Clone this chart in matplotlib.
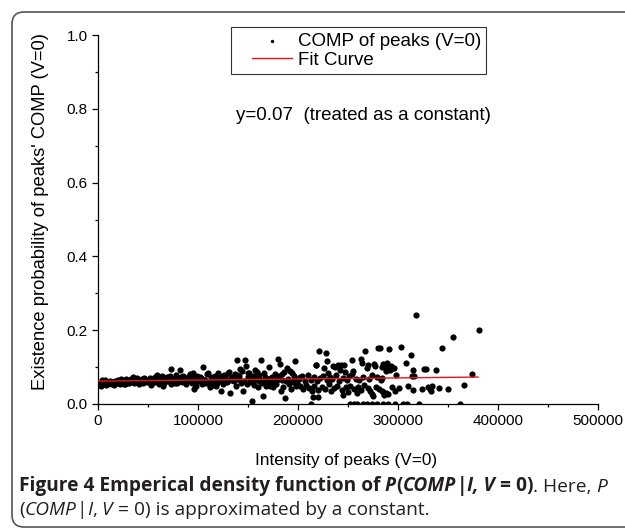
import matplotlib
matplotlib.use("Agg")
import matplotlib.pyplot as plt
from matplotlib.patches import FancyBboxPatch
from matplotlib.transforms import IdentityTransform
from matplotlib.lines import Line2D
from matplotlib.collections import PathCollection
from matplotlib.legend_handler import HandlerLine2D, HandlerPathCollection

plt.rcParams['font.family'] = ['Liberation Sans', 'DejaVu Sans']

# intensity 0 - 50000 (dense band)
intensity_a = [1000, 2000, 3000, 3500, 5000, 6000, 7000, 8000, 9000, 10000,
               11000, 12000, 13000, 14000, 15000, 16000, 17000, 18000, 19000,
               20000, 21000, 22000, 23000, 24000, 25000, 26000, 27000, 28000,
               29000, 30000, 31000, 32000, 33000, 34000, 35000, 36000, 37000,
               38000, 39000, 40000, 41000, 42000, 43000, 44000, 45000, 46000,
               47000, 48000, 49000]
prob_a = [0.052, 0.058, 0.050, 0.065, 0.062, 0.055, 0.064, 0.052, 0.060, 0.054,
          0.057, 0.063, 0.058, 0.054, 0.059, 0.052, 0.061, 0.056, 0.062,
          0.064, 0.058, 0.053, 0.069, 0.066, 0.060, 0.054, 0.055, 0.067,
          0.058, 0.061, 0.057, 0.065, 0.068, 0.063, 0.072, 0.056, 0.065,
          0.060, 0.070, 0.059, 0.055, 0.062, 0.066, 0.068, 0.057, 0.071,
          0.067, 0.064, 0.060]

# intensity 50000 - 100000
intensity_b = [51000, 52000, 53000, 54000, 55000, 57000, 58000, 59000, 60000,
               61000, 63000, 64000, 65000, 66000, 67000, 69000, 70000, 71000,
               72000, 73000, 73000, 75000, 76000, 77000, 78000, 79000, 81000,
               82000, 82000, 83000, 84000, 85000, 87000, 88000, 89000, 90000,
               91000, 92000, 93000, 94000, 95000, 96000, 96000, 97000, 98000,
               99000]
prob_b = [0.062, 0.070, 0.052, 0.057, 0.066, 0.073, 0.060, 0.078, 0.064,
          0.055, 0.069, 0.075, 0.050, 0.058, 0.066, 0.072, 0.061, 0.067,
          0.077, 0.054, 0.096, 0.068, 0.063, 0.056, 0.079, 0.057, 0.071,
          0.065, 0.092, 0.074, 0.060, 0.076, 0.069, 0.053, 0.061, 0.073,
          0.066, 0.081, 0.080, 0.058, 0.083, 0.070, 0.040, 0.062, 0.048,
          0.075]

# intensity 100000 - 200000
intensity_c = [101000, 102000, 103000, 104000, 105000, 106000, 107000, 108000,
               109000, 110000, 111000, 112000, 113000, 114000, 115000, 116000,
               117000, 118000, 119000, 120000, 121000, 122000, 123000, 124000,
               125000, 126000, 127000, 128000, 129000, 130000, 131000, 132000,
               133000, 134000, 135000, 136000, 137000, 138000, 139000, 140000,
               141000, 142000, 143000, 144000, 145000, 146000, 147000, 148000,
               149000, 150000, 151000, 152000, 153000, 154000, 155000, 156000,
               157000, 158000, 159000, 160000, 161000, 162000, 163000, 164000,
               165000, 166000, 167000, 168000, 169000, 170000, 171000, 172000,
               173000, 174000, 175000, 176000, 177000, 178000, 179000, 180000,
               181000, 182000, 183000, 184000, 185000, 186000, 187000, 188000,
               189000, 191000, 192000, 193000, 194000, 195000, 196000, 197000,
               198000, 199000]
prob_c = [0.062, 0.074, 0.071, 0.055, 0.099, 0.065, 0.066, 0.058, 0.080,
          0.083, 0.060, 0.045, 0.072, 0.051, 0.061, 0.068, 0.076, 0.048,
          0.057, 0.085, 0.077, 0.063, 0.034, 0.067, 0.053, 0.079, 0.059,
          0.066, 0.060, 0.083, 0.088, 0.031, 0.071, 0.073, 0.064, 0.062,
          0.081, 0.050, 0.119, 0.069, 0.075, 0.095, 0.058, 0.090, 0.035,
          0.062, 0.119, 0.103, 0.054, 0.084, 0.085, 0.067, 0.059, 0.008,
          0.077, 0.052, 0.093, 0.070, 0.086, 0.045, 0.061, 0.065, 0.119,
          0.056, 0.022, 0.083, 0.072, 0.048, 0.058, 0.068, 0.100, 0.050,
          0.060, 0.074, 0.047, 0.053, 0.082, 0.055, 0.066, 0.121, 0.076,
          0.108, 0.035, 0.064, 0.046, 0.088, 0.017, 0.063, 0.097, 0.055,
          0.090, 0.040, 0.084, 0.060, 0.066, 0.117, 0.050, 0.058]

# intensity 100000 - 200000, second layer of the band
intensity_c2 = [104000, 110000, 116000, 121000, 127000, 133000, 139000,
                144000, 150000, 156000, 161000, 167000, 173000, 178000,
                184000, 190000, 196000]
prob_c2 = [0.068, 0.057, 0.073, 0.062, 0.075, 0.066, 0.078, 0.061, 0.072,
           0.065, 0.079, 0.060, 0.070, 0.064, 0.081, 0.069, 0.075]

# intensity 200000 - 300000 (spread out)
intensity_d = [201000, 202000, 202000, 204000, 205000, 207000, 208000, 210000,
               211000, 213000, 214000, 214700, 216000, 216000, 217700, 218000,
               219000, 220000, 220300, 221300, 222000, 224000, 225000, 226300,
               227000, 227700, 228700, 229000, 230300, 231000, 232000, 233000,
               234000, 235000, 236000, 237000, 238000, 239000, 240000, 241000,
               242000, 243000, 244000, 245000, 245000, 246000, 247000, 248000,
               249000, 250000, 251000, 252000, 253700, 254000, 255300, 256000,
               258000, 258700, 260000, 261000, 262700, 263000, 264000, 265000,
               266000, 267000, 268700, 269700, 270300, 271000, 272000, 274000,
               274000, 275000, 276300, 277000, 278000, 279000, 280300, 281000,
               282000, 283000, 284000, 284000, 284300, 284700, 285000, 286000,
               286000, 287000, 288000, 288000, 289000, 290000, 290000, 291300,
               292000, 293000, 294000, 295000, 296000, 297000, 298000]
prob_d = [0.068, 0.048, 0.072, 0.075, 0.040, 0.062, 0.052, 0.079,
          0.044, 0.066, 0.035, 0.020, 0.072, 0.050, 0.107, 0.105,
          0.061, 0.038, 0.020, 0.144, 0.070, 0.046, 0.076, 0.097,
          0.041, 0.137, 0.117, 0.064, 0.083, 0.053, 0.073, 0.036,
          0.068, 0.103, 0.044, 0.101, 0.078, 0.049, 0.107, 0.063,
          0.092, 0.106, 0.039, 0.071, 0.024, 0.107, 0.087, 0.046,
          0.066, 0.033, 0.075, 0.050, 0.119, 0.080, 0.090, 0.042,
          0.069, 0.031, 0.047, 0.064, 0.121, 0.038, 0.112, 0.074,
          0.051, 0.144, 0.097, 0.105, 0.044, 0.068, 0.036, 0.078,
          0.026, 0.022, 0.108, 0.103, 0.045, 0.072, 0.153, 0.040,
          0.153, 0.066, 0.100, 0.035, 0.070, 0.108, 0.033, 0.100,
          0.024, 0.106, 0.089, 0.029, 0.111, 0.095, 0.027, 0.150,
          0.093, 0.104, 0.046, 0.098, 0.097, 0.036, 0.078]

# intensity above 300000 (sparse)
intensity_e = [300700, 302700, 307700, 310300, 312700, 314000, 314700, 315300,
               316000, 317700, 323700, 326000, 327500, 330000, 332000, 333000,
               334000, 337700, 341300, 343700, 350300, 355300, 366300, 373700,
               381000]
prob_e = [0.044, 0.155, 0.112, 0.049, 0.133, 0.075, 0.038, 0.092,
          0.077, 0.241, 0.040, 0.096, 0.096, 0.047, 0.040, 0.035,
          0.049, 0.092, 0.043, 0.151, 0.042, 0.182, 0.051, 0.080,
          0.201]

# points sitting on the zero line
intensity_zero = [213000, 252000, 256000, 259000, 265000, 269000, 274000,
                  279000, 285000, 290000, 297000, 305000, 309000, 321000,
                  362000]
prob_zero = [0.0] * len(intensity_zero)

# linear fit
fit_x = [0, 380000]
fit_y = [0.062, 0.073]

intensity = (intensity_a + intensity_b + intensity_c + intensity_c2
             + intensity_d + intensity_e + intensity_zero)
prob = prob_a + prob_b + prob_c + prob_c2 + prob_d + prob_e + prob_zero

fig = plt.figure(figsize=(6.25, 5.29), dpi=100)
ax = fig.add_axes([0.1568, 0.2363, 0.8, 0.6975])

ax.scatter(intensity, prob, s=20, c='black', linewidths=0, zorder=3,
           label='COMP of peaks (V=0)')
ax.plot(fit_x, fit_y, color='#e8141c', lw=1.0, zorder=4, label='Fit Curve')

ax.set_xlim(0, 500000)
ax.set_ylim(0, 1.0)
ax.set_xticks(range(0, 500001, 100000))
ax.set_xticklabels([str(v) for v in range(0, 500001, 100000)])
ax.set_xticks(range(50000, 500000, 100000), minor=True)
ax.set_yticks([0.0, 0.2, 0.4, 0.6, 0.8, 1.0])
ax.set_yticklabels(['0.0', '0.2', '0.4', '0.6', '0.8', '1.0'])
ax.set_yticks([0.1, 0.3, 0.5, 0.7, 0.9], minor=True)
ax.tick_params(which='major', direction='out', length=4.5, width=0.9,
               labelsize=11, pad=3)
ax.tick_params(which='minor', direction='out', length=2.5, width=0.9)
for side in ['top', 'right']:
    ax.spines[side].set_visible(False)
for side in ['left', 'bottom']:
    ax.spines[side].set_linewidth(0.9)

fig.text(346 / 625, 1 - 460 / 529, 'Intensity of peaks (V=0)',
         ha='center', va='center', fontsize=12.4)
fig.text(41 / 625, 1 - 212 / 529,
         "Existence probability of peaks' COMP (V=0)",
         ha='center', va='center', rotation=90, fontsize=13.2)
fig.text(236 / 625, 1 - 115 / 529, 'y=0.07  (treated as a constant)',
         ha='left', va='center', fontsize=13.5)

leg_size = 13.5
leg = ax.legend(loc='upper left', bbox_to_anchor=(231 / 625, 1 - 27 / 529),
                bbox_transform=fig.transFigure, fontsize=leg_size,
                frameon=True, fancybox=False, borderpad=0.3,
                labelspacing=0.1, handlelength=2.95, handletextpad=0.3,
                markerscale=0.55, scatterpoints=1, borderaxespad=0,
                handler_map={Line2D: HandlerLine2D(xpad=0.82),
                             PathCollection: HandlerPathCollection(xpad=0.82)})
leg.get_frame().set_edgecolor('black')
leg.get_frame().set_linewidth(0.8)

# rounded frame around the figure
border = FancyBboxPatch((12, 2), 700, 515,
                        boxstyle='round,pad=0,rounding_size=12',
                        transform=IdentityTransform(), fill=False,
                        edgecolor='#555555', lw=1.2)
fig.add_artist(border)

# caption, built from pieces in bold / italic
cap_font = ['Open Sans', 'DejaVu Sans']
cap_size = 13.8
cap_color = '#231f20'
lines = [
    [('Figure 4 Emperical density function of', 'bold', 'normal'),
     (' P', 'bold', 'italic'), ('(', 'bold', 'normal'),
     ('COMP', 'bold', 'italic'), ('|', 'bold', 'normal'),
     ('I, V', 'bold', 'italic'), (' = 0)', 'bold', 'normal'),
     ('. Here,', 'normal', 'normal'), (' P', 'normal', 'italic')],
    [('(', 'normal', 'normal'), ('COMP', 'normal', 'italic'),
     ('|', 'normal', 'normal'), ('I', 'normal', 'italic'),
     (',', 'normal', 'normal'), (' V', 'normal', 'italic'),
     (' = 0) is approximated by a constant.', 'normal', 'normal')],
]
line_y = [1 - 491 / 529, 1 - 515 / 529]
for pieces, y in zip(lines, line_y):
    prev = None
    for txt, weight, style in pieces:
        if prev is None:
            prev = fig.text(19 / 625, y, txt, ha='left', va='baseline',
                            fontsize=cap_size, family=cap_font,
                            weight=weight, style=style, color=cap_color)
        else:
            prev = ax.annotate(txt, xy=(1, 0), xycoords=prev, ha='left',
                               va='bottom', fontsize=cap_size,
                               family=cap_font, weight=weight, style=style,
                               color=cap_color, annotation_clip=False)

fig.savefig('out.png', dpi=100)
